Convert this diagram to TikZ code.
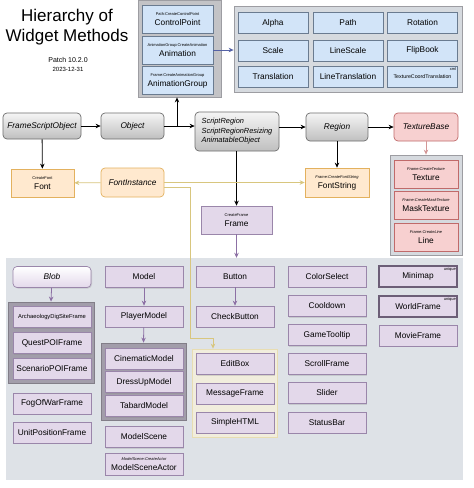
\documentclass[tikz,border=0pt]{standalone}
\usepackage{fontspec}
\setmainfont{Liberation Sans}
\usetikzlibrary{arrows.meta,shadows}

\definecolor{bluefill}{HTML}{D2E4F8}
\definecolor{blueline}{HTML}{6A7B90}
\definecolor{grpfill}{HTML}{C3C3C6}
\definecolor{grpline}{HTML}{9D9DA2}
\definecolor{panelfill}{HTML}{D6DADF}
\definecolor{greyline}{HTML}{6E6E6E}
\definecolor{purfill}{HTML}{E3D8EA}
\definecolor{purline}{HTML}{9A86AA}
\definecolor{purgrp}{HTML}{A29DAA}
\definecolor{bgfill}{HTML}{DEE2E7}
\definecolor{orfill}{HTML}{FFE9CF}
\definecolor{orline}{HTML}{E3B15E}
\definecolor{pkfill}{HTML}{F7D0D0}
\definecolor{pkline}{HTML}{C06A6A}
\definecolor{yelline}{HTML}{D8C67E}
\definecolor{yelfill}{HTML}{F1EDDD}
\definecolor{purarrow}{HTML}{8C70A4}

\newcommand{\lbl}{\fontsize{4}{4.5}\selectfont}
\newcommand{\txt}{\fontsize{8.3}{10}\selectfont}

\tikzset{
  box/.style={draw, line width=0.7pt, minimum width=78pt, minimum height=21pt, inner sep=1pt, align=center, font=\txt},
  greybox/.style={box, rounded corners=4pt, draw=greyline, top color=gray!8, bottom color=gray!50, font=\txt\itshape},
  bluebox/.style={box, draw=blueline, fill=bluefill},
  purbox/.style={box, draw=purline, fill=purfill, drop shadow={opacity=.25,shadow xshift=1pt,shadow yshift=-1pt}},
  orbox/.style={box, draw=orline, fill=orfill},
  pkbox/.style={box, draw=pkline, fill=pkfill},
  grpbox/.style={draw=grpline, fill=grpfill, line width=0.8pt, inner sep=0pt},
  arr/.style={-{Stealth[length=5pt,width=4.5pt]}, line width=0.8pt},
  yarr/.style={arr, draw=yelline},
  parr/.style={arr, draw=purarrow},
}

\begin{document}
\begin{tikzpicture}[x=1pt,y=-1pt]
\useasboundingbox[fill=white] (0,0) rectangle (474,488);

% title
\node[font=\fontsize{17}{20}\selectfont, align=center] (title) at (67,27) {Hierarchy of\\Widget Methods};
\node[font=\fontsize{7}{9}\selectfont, align=center] (patch) at (68,64) {Patch 10.2.0\\{\fontsize{6}{7}\selectfont 2023-12-31}};

% animation groups
\node[grpbox, minimum width=83pt, minimum height=97pt] (anigrp) at (179.5,48.5) {};
\node[bluebox, minimum width=71pt, minimum height=28pt] (cpoint) at (177.5,19.5) {{\lbl Path:CreateControlPoint}\\ControlPoint};
\node[bluebox, minimum width=71pt, minimum height=28pt] (anim) at (177.5,50) {{\lbl AnimationGroup:CreateAnimation}\\Animation};
\node[bluebox, minimum width=71pt, minimum height=28pt] (animgroup) at (177.5,80.5) {{\lbl Frame:CreateAnimationGroup}\\AnimationGroup};

\node[grpbox, fill=panelfill, minimum width=228pt, minimum height=86pt] (animtypes) at (348,49) {};
\node[bluebox, minimum width=70pt] (alpha) at (273,23) {Alpha};
\node[bluebox, minimum width=70pt] (path) at (348,23) {Path};
\node[bluebox, minimum width=70pt] (rotation) at (422.5,23) {Rotation};
\node[bluebox, minimum width=70pt] (scale) at (273,50.5) {Scale};
\node[bluebox, minimum width=70pt] (linescale) at (348,50.5) {LineScale};
\node[bluebox, minimum width=70pt] (flipbook) at (422.5,50.5) {FlipBook};
\node[bluebox, minimum width=70pt] (translation) at (273,77) {Translation};
\node[bluebox, minimum width=70pt] (linetrans) at (348,77) {LineTranslation};
\node[bluebox, minimum width=70pt, font=\fontsize{5.3}{6}\selectfont, label={[anchor=north east, inner sep=1.5pt, font=\lbl]north east:xml}] (texcoord) at (422.5,77) {TextureCoordTranslation};

% base objects
\node[greybox, minimum width=78pt, minimum height=26pt] (fso) at (42,126) {FrameScriptObject};
\node[greybox, minimum width=63pt, minimum height=26pt] (object) at (132.5,126) {Object};
\node[greybox, minimum width=84pt, minimum height=39pt, align=left, font=\fontsize{7.4}{9.5}\selectfont\itshape] (sregion) at (237,131.5) {ScriptRegion\\ScriptRegionResizing\\AnimatableObject};
\node[greybox, minimum width=62pt, minimum height=28pt] (region) at (337,127) {Region};
\node[pkbox, rounded corners=4pt, minimum width=64pt, minimum height=28pt, font=\txt\itshape] (texbase) at (426,127) {TextureBase};

% fonts
\node[orbox, minimum width=63pt, minimum height=28pt] (font) at (42.5,183) {{\lbl CreateFont}\\Font};
\node[orbox, rounded corners=4pt, minimum width=63pt, minimum height=29pt, font=\txt\itshape] (fontinst) at (132.5,182.5) {FontInstance};
\node[orbox, minimum width=64pt, minimum height=29pt] (fontstr) at (337,182.5) {{\lbl\itshape Frame:CreateFontString}\\FontString};

% textures
\node[grpbox, fill=panelfill, minimum width=72pt, minimum height=100pt] (texgrp) at (426,205) {};
\node[pkbox, minimum width=64pt, minimum height=28pt] (texture) at (426,174) {{\lbl\itshape Frame:CreateTexture}\\Texture};
\node[pkbox, minimum width=64pt, minimum height=28pt] (masktex) at (426,205) {{\lbl\itshape Frame:CreateMaskTexture}\\MaskTexture};
\node[pkbox, minimum width=64pt, minimum height=28pt] (line) at (426,237) {{\lbl\itshape Frame:CreateLine}\\Line};

% frame
\node[purbox, minimum width=71pt, minimum height=28pt] (frame) at (236.5,220) {{\lbl CreateFrame}\\Frame};

% frame types
\node[draw=none, fill=bgfill, minimum width=457pt, minimum height=222pt] (frames) at (234.5,369) {};

\node[purbox, rounded corners=4pt, top color=white, bottom color=purfill, font=\txt\itshape] (blob) at (52,277) {Blob};
\node[grpbox, fill=purgrp, draw=purgrp!80!black, minimum width=86pt, minimum height=81pt] (blobgrp) at (51,342.5) {};
\node[purbox, font=\fontsize{5.8}{7}\selectfont] (archdig) at (52,317) {ArchaeologyDigSiteFrame};
\node[purbox] (questpoi) at (52,343) {QuestPOIFrame};
\node[purbox] (scenpoi) at (52,368.5) {ScenarioPOIFrame};
\node[purbox] (fogofwar) at (52,403.5) {FogOfWarFrame};
\node[purbox] (unitpos) at (52,432.5) {UnitPositionFrame};

\node[purbox] (model) at (144,277) {Model};
\node[purbox] (playermodel) at (144,316.5) {PlayerModel};
\node[grpbox, fill=purgrp, draw=purgrp!80!black, minimum width=85pt, minimum height=77pt] (modelgrp) at (143.5,381.5) {};
\node[purbox] (cinematic) at (144,358.5) {CinematicModel};
\node[purbox] (dressup) at (144,382) {DressUpModel};
\node[purbox] (tabard) at (144,406) {TabardModel};
\node[purbox] (modelscene) at (144,437) {ModelScene};
\node[purbox, minimum height=22pt] (msactor) at (144,464) {{\lbl\itshape ModelScene:CreateActor}\\ModelSceneActor};

\node[purbox] (button) at (235,276.5) {Button};
\node[purbox] (checkbutton) at (235,316.5) {CheckButton};
\node[grpbox, fill=yelfill, draw=yelline!60!white, minimum width=85pt, minimum height=88pt] (editgrp) at (234.5,393) {};
\node[purbox] (editbox) at (235,364) {EditBox};
\node[purbox] (msgframe) at (235,393.5) {MessageFrame};
\node[purbox] (simplehtml) at (235,422.5) {SimpleHTML};

\node[purbox] (colorselect) at (327,276.5) {ColorSelect};
\node[purbox] (cooldown) at (327,306) {Cooldown};
\node[purbox] (gametooltip) at (327,335) {GameTooltip};
\node[purbox] (scrollframe) at (327,364) {ScrollFrame};
\node[purbox] (slider) at (327,393) {Slider};
\node[purbox] (statusbar) at (327,422.5) {StatusBar};

\node[purbox, line width=1.1pt, draw=purline!70!black, label={[anchor=north east, inner sep=1.5pt, font=\lbl]north east:unique}] (minimap) at (418,276.5) {Minimap};
\node[purbox, line width=1.1pt, draw=purline!70!black, label={[anchor=north east, inner sep=1.5pt, font=\lbl]north east:unique}] (worldframe) at (418,306.5) {WorldFrame};
\node[purbox] (movieframe) at (418,335.5) {MovieFrame};

% connectors
\coordinate (branch) at (177,126);
\coordinate (yturn) at (190,338);
\coordinate (ydrop) at (213,338);
\draw[arr] (fso) -- (object);
\draw[arr] (object.east) -- (object.east -| sregion.west);
\draw[arr] (branch) -- (branch |- anigrp.south);
\draw[arr, draw=blueline!80!blue] (anim.east) -- (anim.east -| animtypes.west);
\draw[arr] (sregion.east |- region) -- (region.west);
\draw[arr] (region) -- (texbase);
\draw[arr] (fso) -- (font);
\draw[arr] (region) -- (fontstr);
\draw[arr] (sregion.south -| frame) -- (frame.north);
\draw[arr, draw=pkline!70!white] (texbase) -- (texgrp.north);
\draw[yarr] (fontinst) -- (font);
\draw[yarr] (fontinst.east) -- (fontstr.west);
\draw[yarr] ([yshift=-5pt]fontinst.east) -| (yturn) -- (ydrop) -- (ydrop |- editgrp.north);
\draw[parr] (frame.south) -- (frame |- frames.north);
\draw[parr] (blob) -- (blobgrp.north);
\draw[parr] (model) -- (playermodel);
\draw[parr] (playermodel) -- (modelgrp.north);
\draw[parr] (button) -- (checkbutton);
\end{tikzpicture}
\end{document}
